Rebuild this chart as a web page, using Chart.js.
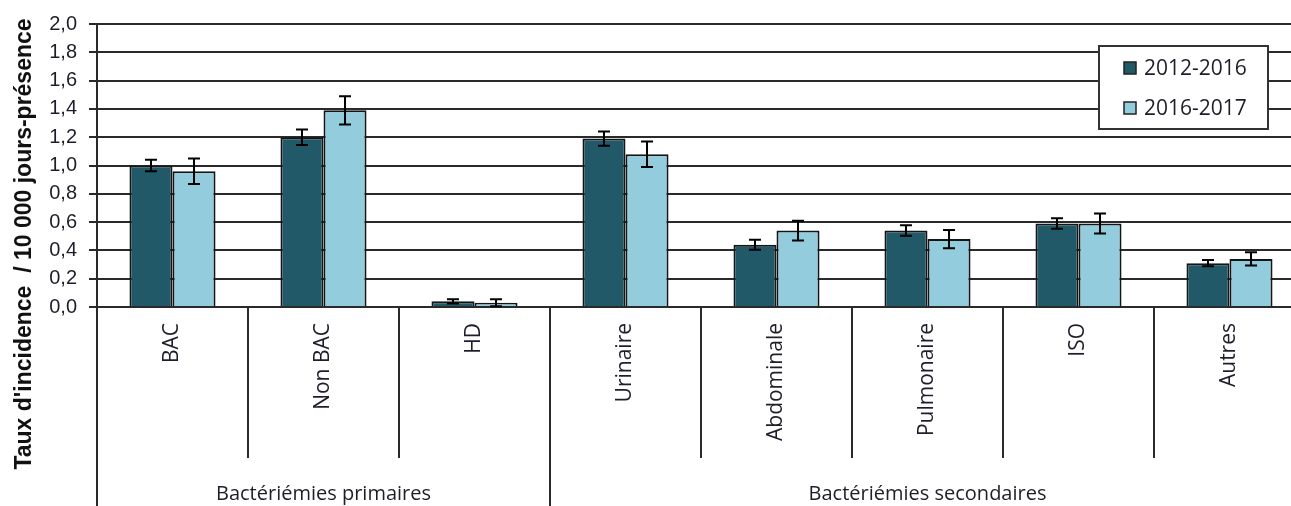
<!DOCTYPE html>
<html>
<head>
<meta charset="utf-8">
<script src="https://cdn.jsdelivr.net/npm/chart.js@4"></script>
<style>
  html, body { margin: 0; padding: 0; background: #fff; overflow: hidden; }
  #wrap { width: 1291px; height: 506px; overflow: hidden; }
</style>
</head>
<body>
<div id="wrap"><canvas id="chart" width="1310" height="506"></canvas></div>
<script>
// Data
const categories = ['BAC', 'Non BAC', 'HD', 'Urinaire', 'Abdominale', 'Pulmonaire', 'ISO', 'Autres'];
const groups = ['Bactériémies primaires', 'Bactériémies secondaires'];
const groupSizes = [3, 5];
const seriesNames = ['2012-2016', '2016-2017'];
const rates1216 = [1.00, 1.20, 0.04, 1.19, 0.44, 0.54, 0.59, 0.31];
const errors1216 = [0.04, 0.055, 0.015, 0.05, 0.035, 0.037, 0.037, 0.022];
const rates1617 = [0.96, 1.39, 0.03, 1.08, 0.54, 0.48, 0.59, 0.34];
const errors1617 = [0.09, 0.10, 0.025, 0.09, 0.07, 0.064, 0.07, 0.047];
const yTitle = "Taux d'incidence  / 10 000 jours-présence";

const lineColor = '#2a2a2a';
const textColor = '#1e1e2a';

// error bars drawn from the y scale
const errorBars = {
  id: 'errorBars',
  afterDatasetsDraw(chart) {
    const { ctx } = chart;
    const y = chart.scales.y;
    const errs = [errors1216, errors1617];
    ctx.save();
    ctx.strokeStyle = '#000';
    ctx.lineWidth = 2;
    chart.data.datasets.forEach((ds, d) => {
      chart.getDatasetMeta(d).data.forEach((bar, i) => {
        const top = y.getPixelForValue(ds.data[i] + errs[d][i]);
        const bot = y.getPixelForValue(Math.max(0, ds.data[i] - errs[d][i]));
        ctx.beginPath();
        ctx.moveTo(bar.x, top); ctx.lineTo(bar.x, bot);
        ctx.moveTo(bar.x - 6, top); ctx.lineTo(bar.x + 6, top);
        ctx.moveTo(bar.x - 6, bot); ctx.lineTo(bar.x + 6, bot);
        ctx.stroke();
      });
    });
    ctx.restore();
  }
};

// dividers below the x axis, group labels, y title and boxed legend
const decorations = {
  id: 'decorations',
  afterDraw(chart) {
    const { ctx, chartArea } = chart;
    const step = (chartArea.right - chartArea.left) / categories.length;
    const base = chartArea.bottom;
    ctx.save();
    ctx.strokeStyle = lineColor;
    ctx.lineWidth = 2;

    // boundaries between groups go to the bottom
    const groupEdges = [0];
    groupSizes.forEach(n => groupEdges.push(groupEdges[groupEdges.length - 1] + n));
    for (let i = 0; i <= categories.length; i++) {
      const px = Math.round(chartArea.left + i * step);
      const full = groupEdges.includes(i);
      ctx.beginPath();
      ctx.moveTo(px, base);
      ctx.lineTo(px, full ? chart.height : base + 151);
      ctx.stroke();
    }

    ctx.fillStyle = textColor;
    ctx.font = '20px "Open Sans"';
    ctx.textAlign = 'center';
    ctx.textBaseline = 'alphabetic';
    groups.forEach((g, k) => {
      const cx = chartArea.left + (groupEdges[k] + groupEdges[k + 1]) / 2 * step;
      ctx.fillText(g, cx, 500);
    });

    // y title centred on the whole height
    ctx.save();
    ctx.translate(25, 244);
    ctx.rotate(-Math.PI / 2);
    ctx.font = 'bold 23px "Liberation Sans", Arial';
    ctx.fillStyle = '#111';
    ctx.textAlign = 'center';
    ctx.textBaseline = 'middle';
    ctx.fillText(yTitle, 0, 0);
    ctx.restore();

    // legend box
    ctx.fillStyle = '#fff';
    ctx.fillRect(1099, 46, 169, 83);
    ctx.strokeStyle = '#333';
    ctx.strokeRect(1099, 46, 169, 83);
    ctx.font = '21px "Open Sans"';
    ctx.textAlign = 'left';
    ctx.textBaseline = 'middle';
    chart.data.datasets.forEach((ds, d) => {
      const cy = 68 + d * 40;
      ctx.fillStyle = ds.backgroundColor;
      ctx.fillRect(1124, cy - 6, 12, 12);
      ctx.strokeStyle = '#222';
      ctx.lineWidth = 1.5;
      ctx.strokeRect(1124, cy - 6, 12, 12);
      ctx.fillStyle = textColor;
      ctx.fillText(ds.label, 1144, cy + 1);
    });
    ctx.restore();
  }
};

new Chart(document.getElementById('chart'), {
  type: 'bar',
  data: {
    labels: categories,
    datasets: [
      {
        label: seriesNames[0],
        data: rates1216,
        backgroundColor: '#215968',
        borderColor: '#151515',
        borderWidth: 2,
        barPercentage: 1.0,
        categoryPercentage: 0.57,
      },
      {
        label: seriesNames[1],
        data: rates1617,
        backgroundColor: '#93cddd',
        borderColor: '#151515',
        borderWidth: 2,
        barPercentage: 1.0,
        categoryPercentage: 0.57,
      },
    ],
  },
  options: {
    responsive: false,
    animation: false,
    layout: { padding: { top: 22, right: 5, left: 0, bottom: 0 } },
    plugins: {
      legend: { display: false },
      tooltip: { enabled: false },
    },
    scales: {
      x: {
        grid: { display: false, drawTicks: false },
        border: { display: true, color: lineColor, width: 2 },
        ticks: {
          autoSkip: false,
          minRotation: 90,
          maxRotation: 90,
          padding: 16,
          color: textColor,
          font: { family: '"Open Sans"', size: 21 },
        },
        afterFit: (scale) => { scale.height = 199; },
      },
      y: {
        min: 0,
        max: 2,
        grid: { color: lineColor, lineWidth: 2, tickLength: 8 },
        border: { display: true, color: lineColor, width: 2 },
        ticks: {
          stepSize: 0.2,
          padding: 12,
          color: textColor,
          font: { family: '"Liberation Sans", Arial', size: 20 },
          callback: (v) => v.toFixed(1).replace('.', ','),
        },
        afterFit: (scale) => { scale.width = 97; },
      },
    },
  },
  plugins: [errorBars, decorations],
});
</script>
</body>
</html>
